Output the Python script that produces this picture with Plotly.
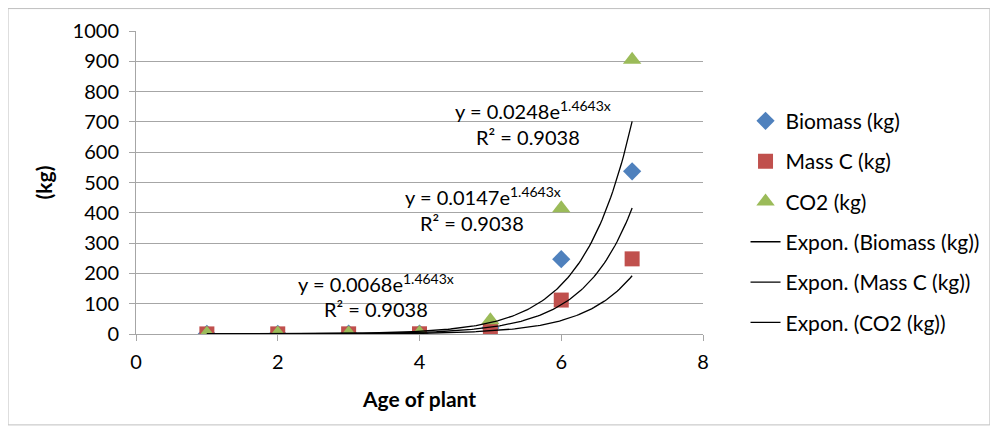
import numpy as np
import plotly.graph_objects as go

# Data
age = [1, 2, 3, 4, 5, 6, 7]
biomass = [0.5, 0.8, 1.0, 1.5, 20, 247, 537]
mass_c = [0.3, 0.4, 0.5, 0.7, 12, 112, 248]
co2 = [1, 1.5, 2, 3, 45, 415, 905]

trend_a = {"Biomass (kg)": 0.0147, "Mass C (kg)": 0.0068, "CO2 (kg)": 0.0248}
trend_b = 1.4643
r2 = 0.9038

x_ticks = [0, 2, 4, 6, 8]
y_ticks = list(range(0, 1001, 100))

FONT = "Lato, Carlito, 'Open Sans', sans-serif"
GRID = "#a6a6a6"

fig = go.Figure()

series = [
    ("Biomass (kg)", biomass, "#4F81BD", "diamond", 14),
    ("Mass C (kg)", mass_c, "#C0504D", "square", 15),
    ("CO2 (kg)", co2, "#9BBB59", "triangle-up", 16),
]
for i, (name, vals, col, sym, sz) in enumerate(series):
    fig.add_trace(go.Scatter(
        x=age, y=vals, mode="markers", name=name,
        marker=dict(color=col, symbol=sym, size=sz, line=dict(width=0)),
        legendgroup=f"g{i}",
    ))

xs = np.linspace(age[0], age[-1], 200)
for i, (name, _, _, _, _) in enumerate(series):
    a = trend_a[name]
    fig.add_trace(go.Scatter(
        x=xs, y=a * np.exp(trend_b * xs), mode="lines",
        name=f"Expon. ({name})",
        line=dict(color="black", width=1.3),
        legendgroup=f"g{i+3}",
    ))

# Trendline equation labels: (a, eq x, eq y, R2 x, R2 y)
labels = [
    (0.0248, 5.60, 740, 5.53, 651),
    (0.0147, 4.89, 457, 4.74, 365),
    (0.0068, 3.39, 168, 3.39, 82),
]
for a, ex, ey, rx, ry in labels:
    fig.add_annotation(x=ex, y=ey, xref="x", yref="y", showarrow=False,
                       text=f"y = {a:.4f}e<sup>{trend_b}x</sup>",
                       font=dict(size=20, color="black", family=FONT))
    fig.add_annotation(x=rx, y=ry, xref="x", yref="y", showarrow=False,
                       text=f"R² = {r2}",
                       font=dict(size=20, color="black", family=FONT))

# Outer chart border
fig.add_shape(type="rect", xref="paper", yref="paper",
              x0=-0.2257, x1=1.506, y0=-0.300, y1=1.074,
              line=dict(color="#bfbfbf", width=1))

fig.update_layout(
    width=998, height=434,
    margin=dict(l=128, r=303, t=23, b=108, autoexpand=False),
    paper_bgcolor="white", plot_bgcolor="white",
    font=dict(family=FONT, size=20, color="black"),
    showlegend=True,
    legend=dict(x=1.075, y=0.77, xanchor="left", yanchor="top",
                font=dict(size=21, family=FONT), tracegroupgap=10,
                bgcolor="rgba(0,0,0,0)"),
    xaxis=dict(range=[0, 8], tickvals=x_ticks, showgrid=False, zeroline=False,
               automargin=False,
               showline=True, linecolor=GRID, linewidth=1,
               ticks="outside", tickcolor=GRID, ticklen=6, ticklabelstandoff=4,
               title=dict(text="<b>Age of plant</b>", font=dict(size=21), standoff=20),
               tickfont=dict(size=20)),
    yaxis=dict(range=[0, 1000], tickvals=y_ticks, showgrid=True, gridcolor=GRID,
               gridwidth=1, zeroline=False,
               automargin=False,
               showline=True, linecolor=GRID, linewidth=1,
               ticks="outside", tickcolor=GRID, ticklen=6, ticklabelstandoff=6,
               title=dict(text="<b>(kg)</b>", font=dict(size=21), standoff=14),
               tickfont=dict(size=20)),
)

fig.write_html("out.html")
